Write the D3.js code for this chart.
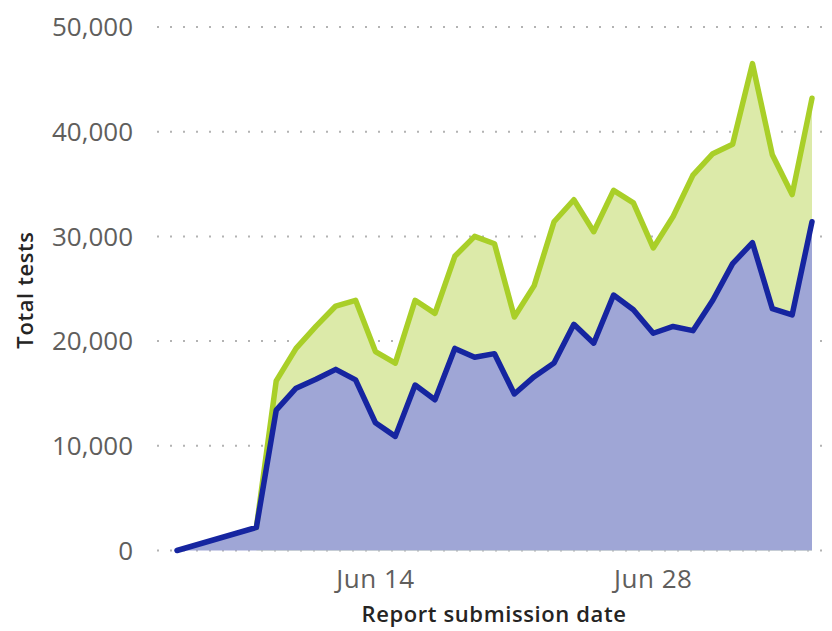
<!DOCTYPE html>
<html>
<head>
<meta charset="utf-8">
<script src="https://cdn.jsdelivr.net/npm/d3@7"></script>
<style>
  html, body { margin: 0; padding: 0; background: #fff; }
  svg { display: block; }
</style>
</head>
<body>
<svg id="chart" width="832" height="631"></svg>
<script>
// ---- data ----
const totalDates = ["2020-06-08","2020-06-09","2020-06-10","2020-06-11","2020-06-12","2020-06-13","2020-06-14","2020-06-15","2020-06-16","2020-06-17","2020-06-18","2020-06-19","2020-06-20","2020-06-21","2020-06-22","2020-06-23","2020-06-24","2020-06-25","2020-06-26","2020-06-27","2020-06-28","2020-06-29","2020-06-30","2020-07-01","2020-07-02","2020-07-03","2020-07-04","2020-07-05","2020-07-06"];
const totalValues = [2200,16200,19300,21400,23350,23900,19000,17900,23900,22650,28100,30000,29300,22300,25300,31400,33500,30450,34400,33200,28900,31900,35850,37900,38800,46500,37800,34000,43200];

const subsetDates = ["2020-06-04","2020-06-08","2020-06-09","2020-06-10","2020-06-11","2020-06-12","2020-06-13","2020-06-14","2020-06-15","2020-06-16","2020-06-17","2020-06-18","2020-06-19","2020-06-20","2020-06-21","2020-06-22","2020-06-23","2020-06-24","2020-06-25","2020-06-26","2020-06-27","2020-06-28","2020-06-29","2020-06-30","2020-07-01","2020-07-02","2020-07-03","2020-07-04","2020-07-05","2020-07-06"];
const subsetValues = [0,2200,13400,15500,16350,17300,16300,12200,10900,15800,14400,19300,18450,18800,14950,16600,17900,21600,19800,24400,23000,20750,21400,21000,23900,27400,29400,23100,22500,31400];

const yTicks = [0,10000,20000,30000,40000,50000];
const xTickLabels = ["2020-06-14","2020-06-28"];
const xDomain = ["2020-06-04","2020-07-06"];

// ---- setup ----
const parse = d3.utcParse("%Y-%m-%d");
const svg = d3.select("#chart");

const x = d3.scaleUtc().domain(xDomain.map(parse)).range([177, 812]);
const y = d3.scaleLinear().domain([0, 50000]).range([550.5, 27]);

const total = totalDates.map((d, i) => ({ date: parse(d), v: totalValues[i] }));
const subset = subsetDates.map((d, i) => ({ date: parse(d), v: subsetValues[i] }));

// gridlines
svg.append("g")
  .selectAll("line")
  .data(yTicks)
  .join("line")
  .attr("x1", 157).attr("x2", 824)
  .attr("y1", d => y(d)).attr("y2", d => y(d))
  .attr("stroke", "#b3b3b3")
  .attr("stroke-width", 2)
  .attr("stroke-dasharray", "2,11");

// areas
const area = d3.area().x(d => x(d.date)).y0(y(0)).y1(d => y(d.v));
const line = d3.line().x(d => x(d.date)).y(d => y(d.v));

svg.append("path").datum(total).attr("d", area).attr("fill", "#dceaa9");
svg.append("path").datum(subset).attr("d", area).attr("fill", "#9fa6d6");

svg.append("path").datum(total).attr("d", line)
  .attr("fill", "none").attr("stroke", "#a9cf28").attr("stroke-width", 5.5)
  .attr("stroke-linejoin", "round").attr("stroke-linecap", "round");
svg.append("path").datum(subset).attr("d", line)
  .attr("fill", "none").attr("stroke", "#1625a0").attr("stroke-width", 5.5)
  .attr("stroke-linejoin", "round").attr("stroke-linecap", "round");

// y axis labels
const fmt = d3.format(",");
svg.append("g")
  .selectAll("text")
  .data(yTicks)
  .join("text")
  .attr("x", 133).attr("y", d => y(d))
  .attr("dy", "0.36em")
  .attr("text-anchor", "end")
  .attr("font-family", "'Open Sans', sans-serif")
  .attr("font-size", 26)
  .attr("fill", "#605e5c")
  .text(d => fmt(d));

// x axis labels
const xfmt = d3.utcFormat("%b %-d");
svg.append("g")
  .selectAll("text")
  .data(xTickLabels.map(parse))
  .join("text")
  .attr("x", d => x(d)).attr("y", 588)
  .attr("text-anchor", "middle")
  .attr("font-family", "'Open Sans', sans-serif")
  .attr("font-size", 26)
  .attr("letter-spacing", 0.5)
  .attr("fill", "#605e5c")
  .text(d => xfmt(d));

// axis titles
svg.append("text")
  .attr("x", 494).attr("y", 622)
  .attr("text-anchor", "middle")
  .attr("font-family", "'Open Sans', sans-serif")
  .attr("font-size", 22)
  .attr("font-weight", 600)
  .attr("letter-spacing", 0.6)
  .attr("fill", "#252423")
  .text("Report submission date");

svg.append("text")
  .attr("transform", "translate(33,290) rotate(-90)")
  .attr("text-anchor", "middle")
  .attr("font-family", "'Open Sans', sans-serif")
  .attr("font-size", 22)
  .attr("font-weight", 600)
  .attr("letter-spacing", 0.6)
  .attr("fill", "#252423")
  .text("Total tests");
</script>
</body>
</html>
